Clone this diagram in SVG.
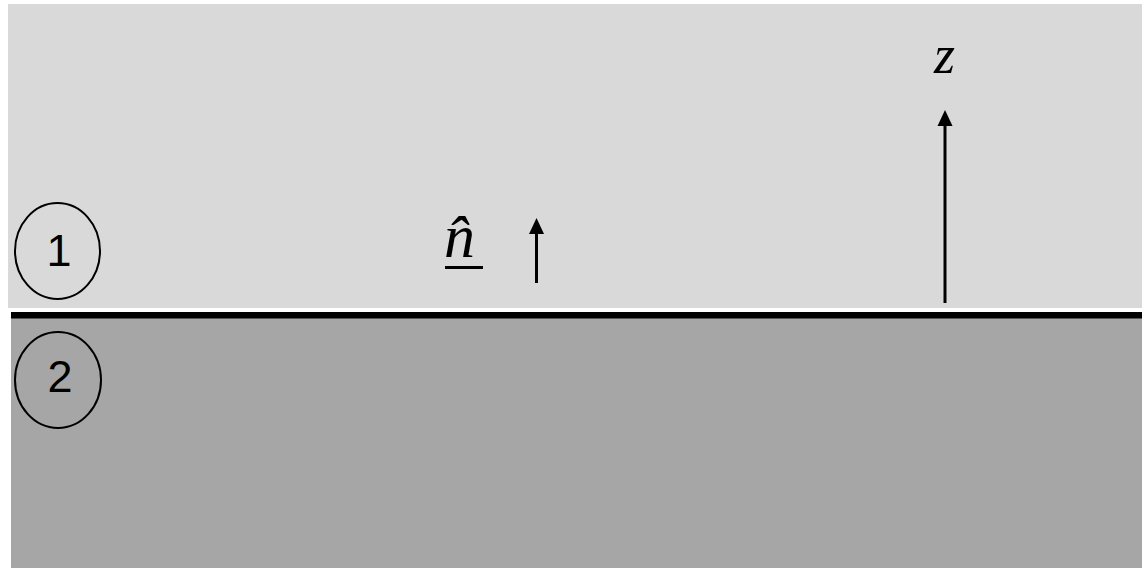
<svg xmlns="http://www.w3.org/2000/svg" width="1142" height="568" viewBox="0 0 1142 568">
  <defs>
    <style>
      .region-label { font-family: "Liberation Sans", Arial, sans-serif; font-size: 45px; fill: #000; text-anchor: middle; }
      .math { font-family: "Liberation Serif", "Times New Roman", Times, serif; font-style: italic; font-weight: normal; fill: #000; }
      .ring { fill: none; stroke: #000; stroke-width: 2; }
      .arrow { stroke: #000; stroke-width: 3; fill: none; }
    </style>
    <marker id="head" markerWidth="16" markerHeight="16" refX="0" refY="0" viewBox="0 -8 16 16" markerUnits="userSpaceOnUse" orient="auto">
      <path d="M0,-7.5 L16,0 L0,7.5 Z" fill="#000"/>
    </marker>
  </defs>
  <rect x="0" y="0" width="1142" height="568" fill="#ffffff"/>
  <g id="medium-1">
    <rect x="8" y="4" width="1134" height="304" fill="#d9d9d9"/>
  </g>
  <g id="medium-2">
    <rect x="11" y="318" width="1131" height="250" fill="#a6a6a6"/>
  </g>
  <g id="interface">
    <rect x="11" y="312" width="1131" height="6.5" fill="#000"/>
  </g>
  <g id="label-1">
    <ellipse class="ring" cx="57.5" cy="251" rx="42.5" ry="48"/>
    <text class="region-label" x="59" y="266">1</text>
  </g>
  <g id="label-2">
    <ellipse class="ring" cx="58" cy="380" rx="43" ry="48"/>
    <text class="region-label" x="60" y="392">2</text>
  </g>
  <g id="normal-label">
    <text class="math" x="444" y="257" font-size="62">n&#x302;</text>
    <rect x="445" y="266" width="38" height="3" fill="#000"/>
  </g>
  <g id="z-label">
    <text class="math" x="934" y="73" font-size="54">z</text>
  </g>
  <g id="connectors">
    <line class="arrow" x1="536.5" y1="283" x2="536.5" y2="234" marker-end="url(#head)"/>
    <line class="arrow" x1="945" y1="303" x2="945" y2="126" marker-end="url(#head)"/>
  </g>
</svg>
